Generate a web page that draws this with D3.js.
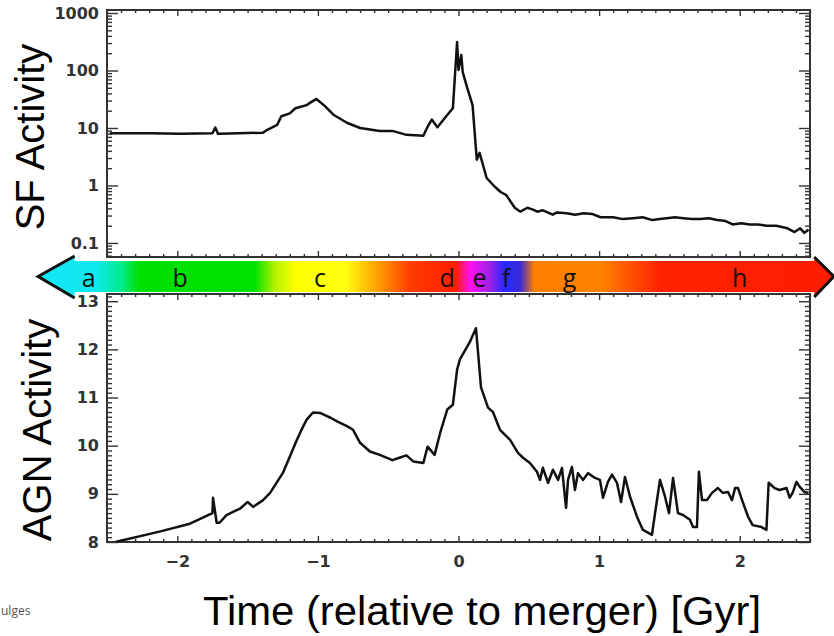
<!DOCTYPE html>
<html>
<head>
<meta charset="utf-8">
<script src="https://cdn.jsdelivr.net/npm/d3@7"></script>
<style>
	body { margin: 0; background: #fff; }
	.axis .tick line { stroke: #333; stroke-width: 1.4; }
	.axis .tick text { font-family: "DejaVu Sans", sans-serif; font-weight: bold; font-size: 16px; fill: #333; }
</style>
</head>
<body>
<div id="visualization"></div>
<script>
// ==================================================
// DATA
// ==================================================

// SF activity (log scale)
var sfTime  = [-2.48, -2.19, -1.98, -1.75, -1.73, -1.71, -1.63, -1.39, -1.36, -1.29,
               -1.26, -1.20, -1.16, -1.08, -1.06, -1.01, -0.95, -0.89, -0.79, -0.70,
               -0.56, -0.47, -0.37, -0.25, -0.22, -0.19, -0.15, -0.08, -0.04, -0.01,
                0.00,  0.02,  0.03,  0.06,  0.10,  0.13,  0.15,  0.20,  0.26,  0.30,
                0.34,  0.40,  0.44,  0.49,  0.53,  0.56,  0.60,  0.67,  0.70,  0.77,
                0.83,  0.89,  0.95,  1.01,  1.10,  1.17,  1.24,  1.31,  1.38,  1.43,
                1.48,  1.54,  1.60,  1.66,  1.72,  1.78,  1.84,  1.90,  1.95,  2.01,
                2.07,  2.13,  2.19,  2.26,  2.34,  2.39,  2.43,  2.46,  2.49];
var sfValue = [8.1, 8.1, 7.9, 8.1, 10.2, 7.9, 8.0, 8.3, 9.3, 11.3,
               16, 18, 22, 25, 27, 32, 24, 17, 12.2, 10,
               8.9, 8.9, 7.6, 7.3, 10.5, 14, 10.3, 16.8, 22, 313,
               102, 186, 94, 52, 25, 2.8, 3.7, 1.35, 0.94, 0.77,
               0.68, 0.41, 0.35, 0.41, 0.38, 0.35, 0.37, 0.31, 0.34, 0.33,
               0.31, 0.33, 0.32, 0.28, 0.28, 0.26, 0.27, 0.28, 0.25, 0.26,
               0.27, 0.28, 0.27, 0.26, 0.26, 0.27, 0.25, 0.24, 0.21, 0.22,
               0.21, 0.21, 0.20, 0.20, 0.18, 0.155, 0.18, 0.15, 0.17];

// AGN activity (linear scale)
var agnTime  = [-2.44, -2.12, -1.91, -1.75, -1.746, -1.72, -1.70, -1.65, -1.60, -1.55,
                -1.50, -1.46, -1.39, -1.34, -1.29, -1.25, -1.20, -1.15, -1.11, -1.08,
                -1.035, -0.985, -0.91, -0.86, -0.79, -0.75, -0.70, -0.63, -0.56, -0.47,
                -0.42, -0.37, -0.32, -0.25, -0.22, -0.17, -0.13, -0.08, -0.04, -0.01,
                 0.01, 0.08, 0.124, 0.139, 0.16, 0.21, 0.245, 0.295, 0.367, 0.423,
                 0.459, 0.508, 0.558, 0.58, 0.60, 0.637, 0.672, 0.708, 0.736, 0.765,
                 0.779, 0.807, 0.828, 0.85, 0.885, 0.921, 0.971, 1.006, 1.028, 1.063,
                 1.092, 1.127, 1.156, 1.184, 1.22, 1.27, 1.312, 1.376, 1.398, 1.433,
                 1.469, 1.497, 1.526, 1.561, 1.597, 1.646, 1.668, 1.696, 1.71, 1.732,
                 1.767, 1.803, 1.845, 1.88, 1.917, 1.945, 1.967, 1.988, 2.017, 2.06,
                 2.092, 2.156, 2.19, 2.206, 2.248, 2.284, 2.333, 2.355, 2.376, 2.404,
                 2.426, 2.46, 2.49];
var agnValue = [8.0, 8.22, 8.38, 8.6, 8.92, 8.4, 8.4, 8.56, 8.63, 8.7,
                8.83, 8.73, 8.87, 9.02, 9.25, 9.43, 9.77, 10.12, 10.37, 10.54,
                10.69, 10.68, 10.58, 10.5, 10.4, 10.33, 10.06, 9.88, 9.81, 9.7,
                9.75, 9.8, 9.67, 9.64, 9.98, 9.81, 10.27, 10.75, 10.85, 11.58,
                11.79, 12.15, 12.44, 11.94, 11.21, 10.79, 10.7, 10.33, 10.12, 9.85,
                9.75, 9.64, 9.46, 9.29, 9.54, 9.23, 9.5, 9.29, 9.54, 8.71,
                9.29, 9.56, 9.08, 9.43, 9.29, 9.43, 9.33, 9.29, 8.92, 9.25,
                9.4, 9.23, 8.83, 9.35, 8.94, 8.52, 8.25, 8.15, 8.6, 9.29,
                8.94, 8.6, 9.33, 8.6, 8.56, 8.46, 8.31, 8.31, 9.46, 8.87,
                8.87, 9.02, 9.12, 9.02, 9.04, 8.87, 9.12, 9.12, 8.87, 8.52,
                8.35, 8.31, 8.25, 9.23, 9.12, 9.08, 9.12, 8.92, 9.02, 9.25,
                9.15, 9.04, 9.02];

// Tick values / labels
var xMajor        = [-2, -1, 0, 1, 2];
var sfMajor       = [0.1, 1, 10, 100, 1000];
var sfTickLabels  = ["0.1", "1", "10", "100", "1000"];
var agnMajor      = [8, 9, 10, 11, 12, 13];
var agnTickLabels = ["8", "9", "10", "11", "12", "13"];

// Merger phases along the colour bar
var phaseLabels = ["a", "b", "c", "d", "e", "f", "g", "h"];
var phaseTimes  = [-2.63, -1.98, -0.985, -0.08, 0.15, 0.34, 0.79, 2.0];
var stopTimes   = [-2.99, -2.59, -2.40, -2.27, -1.45, -1.31, -1.16, -0.81, -0.56, -0.34,
                   -0.02, 0.08, 0.22, 0.33, 0.44, 0.54, 1.01, 1.43, 2.67];
var stopColors  = ["#12e8f6", "#10e8f0", "#00ec90", "#00e000", "#00e200", "#b0f000", "#ffff00", "#ffff10", "#ff9a00", "#ff3a00",
                   "#ff1e00", "#ff10f0", "#a020e8", "#2428ff", "#3a2ad8", "#ff7f00", "#ff8200", "#ff2200", "#ff1c00"];

// ==================================================
// CANVAS
// ==================================================

var width  = 834;
var height = 636;

var svg = d3.select("#visualization")
	.append("svg")
		.attr("width",  width)
		.attr("height", height)
		.style("display", "block");

// Scales
var x    = d3.scaleLinear().domain([-2.5, 2.5]).range([107, 810]);
var ySF  = d3.scaleLog().domain([0.057, 1128]).range([257, 10]);
var yAGN = d3.scaleLinear().domain([8, 13.15]).range([542, 294]);

// Minor ticks
var xMinor = d3.range(-25, 26).map(function(d) { return d / 10; })
	.filter(function(d) { return Math.abs(d - Math.round(d)) > 1e-6; });

var sfMinor = [];
[-2, -1, 0, 1, 2].forEach(function(e) {
	for (var k = 2; k <= 9; k++) {
		var v = k * Math.pow(10, e);
		if (v > 0.057 && v < 1128) sfMinor.push(v);
	}
});

var agnMinor = d3.range(80, 132).map(function(d) { return d / 10; })
	.filter(function(d) { return Math.abs(d - Math.round(d)) > 1e-6; });

// ==================================================
// FUNCTIONS
// ==================================================

function addAxis(axis, tx, ty, keepLabels) {
	var g = svg.append("g")
		.attr("class", "axis")
		.attr("transform", "translate(" + tx + "," + ty + ")")
		.call(axis);
	g.select(".domain").remove();
	if (!keepLabels) g.selectAll("text").remove();
	return g;
}

function drawPanel(y, yMajor, yMinor, yLabels, showX, id) {
	var r  = x.range();
	var yr = y.range();

	// x ticks, top & bottom
	addAxis(d3.axisTop(x).tickValues(xMajor).tickSize(-6), 0, yr[1], false);
	addAxis(d3.axisTop(x).tickValues(xMinor).tickSize(-3), 0, yr[1], false);
	addAxis(d3.axisBottom(x).tickValues(xMajor).tickSize(-6).tickPadding(14)
		.tickFormat(d3.format("d")), 0, yr[0], showX);
	addAxis(d3.axisBottom(x).tickValues(xMinor).tickSize(-3), 0, yr[0], false);

	// y ticks, left & right
	addAxis(d3.axisLeft(y).tickValues(yMajor).tickSize(-11).tickPadding(8)
		.tickFormat(function(d, i) { return yLabels[i]; }), r[0], 0, true);
	addAxis(d3.axisLeft(y).tickValues(yMinor).tickSize(-5), r[0], 0, false);
	addAxis(d3.axisRight(y).tickValues(yMajor).tickSize(-11), r[1], 0, false);
	addAxis(d3.axisRight(y).tickValues(yMinor).tickSize(-5), r[1], 0, false);

	// frame
	svg.append("rect")
		.attr("x", r[0])
		.attr("y", yr[1])
		.attr("width",  r[1] - r[0])
		.attr("height", yr[0] - yr[1])
		.attr("fill", "none")
		.attr("stroke", "#333")
		.attr("stroke-width", 2);

	svg.append("clipPath")
		.attr("id", id)
		.append("rect")
			.attr("x", r[0])
			.attr("y", yr[1])
			.attr("width",  r[1] - r[0])
			.attr("height", yr[0] - yr[1]);
}

function drawCurve(times, values, y, id) {
	var line = d3.line()
		.x(function(d) { return x(d[0]); })
		.y(function(d) { return y(d[1]); });

	svg.append("path")
		.datum(d3.zip(times, values))
		.attr("clip-path", "url(#" + id + ")")
		.attr("d", line)
		.attr("fill", "none")
		.attr("stroke", "#111")
		.attr("stroke-width", 2.5)
		.attr("stroke-linejoin", "round");
}

// ==================================================
// APPLICATION
// ==================================================

// Panels
drawPanel(ySF,  sfMajor,  sfMinor,  sfTickLabels,  false, "clipSF");
drawPanel(yAGN, agnMajor, agnMinor, agnTickLabels, true,  "clipAGN");

drawCurve(sfTime,  sfValue,  ySF,  "clipSF");
drawCurve(agnTime, agnValue, yAGN, "clipAGN");

// Colour bar
var barTop = 261, barBot = 292, barMid = (barTop + barBot) / 2;
var leftTip  = x(-2.99), leftBase  = x(-2.73);
var rightTip = x(2.67),  rightBase = x(2.53);

var grad = svg.append("defs")
	.append("linearGradient")
		.attr("id", "phaseGrad")
		.attr("gradientUnits", "userSpaceOnUse")
		.attr("x1", leftTip).attr("x2", rightTip)
		.attr("y1", 0).attr("y2", 0);

grad.selectAll("stop")
	.data(stopTimes)
	.enter()
		.append("stop")
			.attr("offset", function(d) { return (x(d) - leftTip) / (rightTip - leftTip); })
			.attr("stop-color", function(d, i) { return stopColors[i]; });

svg.append("path")
	.attr("d", "M" + leftTip + "," + barMid +
	           "L" + leftBase + "," + (barTop - 5) +
	           "L" + leftBase + "," + barTop +
	           "L" + rightBase + "," + barTop +
	           "L" + rightBase + "," + (barTop - 4) +
	           "L" + rightTip + "," + barMid +
	           "L" + rightBase + "," + (barBot + 5) +
	           "L" + rightBase + "," + barBot +
	           "L" + leftBase + "," + barBot +
	           "L" + leftBase + "," + (barBot + 6) + "Z")
	.attr("fill", "url(#phaseGrad)");

svg.append("path")
	.attr("d", "M" + leftBase + "," + (barTop - 5) + "L" + leftTip + "," + barMid + "L" + leftBase + "," + (barBot + 6))
	.attr("fill", "none")
	.attr("stroke", "#111")
	.attr("stroke-width", 3);

svg.append("path")
	.attr("d", "M" + rightBase + "," + (barTop - 4) + "L" + rightTip + "," + barMid + "L" + rightBase + "," + (barBot + 5))
	.attr("fill", "none")
	.attr("stroke", "#111")
	.attr("stroke-width", 3);

svg.selectAll(".phase")
	.data(phaseLabels)
	.enter()
		.append("text")
			.attr("class", "phase")
			.attr("x", function(d, i) { return x(phaseTimes[i]); })
			.attr("y", 287)
			.attr("text-anchor", "middle")
			.attr("font-family", "'Open Sans', sans-serif")
			.attr("font-size", "25px")
			.attr("fill", "#111")
			.text(function(d) { return d; });

// Axis titles
svg.append("text")
	.attr("transform", "translate(44," + 137 + ") rotate(-90)")
	.attr("text-anchor", "middle")
	.attr("font-family", "'Liberation Sans', Arial, sans-serif")
	.attr("font-size", "40px")
	.attr("fill", "#000")
	.text("SF Activity");

svg.append("text")
	.attr("transform", "translate(51," + 430 + ") rotate(-90)")
	.attr("text-anchor", "middle")
	.attr("font-family", "'Liberation Sans', Arial, sans-serif")
	.attr("font-size", "40px")
	.attr("fill", "#000")
	.text("AGN Activity");

svg.append("text")
	.attr("x", 203)
	.attr("y", 625)
	.attr("font-family", "'Liberation Sans', Arial, sans-serif")
	.attr("font-size", "40px")
	.attr("textLength", 558)
	.attr("lengthAdjust", "spacingAndGlyphs")
	.attr("fill", "#000")
	.text("Time (relative to merger) [Gyr]");

svg.append("text")
	.attr("x", 1)
	.attr("y", 615)
	.attr("font-family", "'Open Sans', sans-serif")
	.attr("font-size", "12px")
	.attr("fill", "#555")
	.text("ulges");
</script>
</body>
</html>
